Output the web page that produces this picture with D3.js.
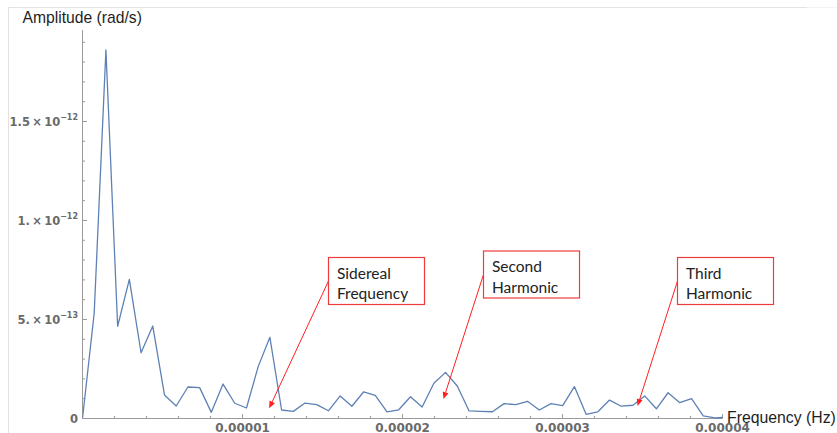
<!DOCTYPE html>
<html>
<head>
<meta charset="utf-8">
<script src="https://cdn.jsdelivr.net/npm/d3@7"></script>
<style>
  html, body { margin: 0; padding: 0; background: #fff; }
  svg { display: block; }
</style>
</head>
<body>
<svg id="chart" width="837" height="433"></svg>
<script>
// Frequency bins (Hz) of the amplitude spectrum
const frequency = [
  0, 0.732e-6, 1.464e-6, 2.196e-6, 2.928e-6, 3.660e-6, 4.392e-6, 5.124e-6,
  5.856e-6, 6.588e-6, 7.320e-6, 8.052e-6, 8.784e-6, 9.516e-6, 10.248e-6, 10.980e-6,
  11.712e-6, 12.444e-6, 13.176e-6, 13.908e-6, 14.640e-6, 15.372e-6, 16.104e-6, 16.836e-6,
  17.568e-6, 18.300e-6, 19.032e-6, 19.764e-6, 20.496e-6, 21.228e-6, 21.960e-6, 22.692e-6,
  23.424e-6, 24.156e-6, 24.888e-6, 25.620e-6, 26.352e-6, 27.084e-6, 27.816e-6, 28.548e-6,
  29.280e-6, 30.012e-6, 30.744e-6, 31.476e-6, 32.208e-6, 32.940e-6, 33.672e-6, 34.404e-6,
  35.136e-6, 35.868e-6, 36.600e-6, 37.332e-6, 38.064e-6, 38.796e-6, 39.528e-6, 40.260e-6
];

// Spectral amplitude (rad/s) in each bin
const amplitude = [
  0.00e-13, 5.33e-13, 18.61e-13, 4.66e-13, 7.03e-13, 3.32e-13, 4.67e-13, 1.19e-13,
  0.63e-13, 1.59e-13, 1.56e-13, 0.31e-13, 1.74e-13, 0.77e-13, 0.53e-13, 2.62e-13,
  4.10e-13, 0.43e-13, 0.36e-13, 0.78e-13, 0.70e-13, 0.39e-13, 1.14e-13, 0.62e-13,
  1.34e-13, 1.17e-13, 0.33e-13, 0.44e-13, 1.10e-13, 0.58e-13, 1.78e-13, 2.33e-13,
  1.64e-13, 0.39e-13, 0.36e-13, 0.34e-13, 0.75e-13, 0.70e-13, 0.87e-13, 0.43e-13,
  0.75e-13, 0.65e-13, 1.61e-13, 0.21e-13, 0.34e-13, 0.93e-13, 0.62e-13, 0.67e-13,
  1.14e-13, 0.49e-13, 1.30e-13, 0.80e-13, 1.00e-13, 0.13e-13, 0.03e-13, 0.06e-13
];

// Labelled ticks
const xTickValues = [1e-5, 2e-5, 3e-5, 4e-5];
const xTickLabels = ["0.00001", "0.00002", "0.00003", "0.00004"];
const yTickValues = [0, 5e-13, 1e-12, 1.5e-12];
const yTickMantissa = ["0", "5.\u2009\u00d7\u200910", "1.\u2009\u00d7\u200910", "1.5\u2009\u00d7\u200910"];
const yTickExponent = ["", "\u221213", "\u221212", "\u221212"];

// Callouts: text lines and the (frequency, amplitude) each arrow points at
const calloutLines = [["Sidereal", "Frequency"], ["Second", "Harmonic"], ["Third", "Harmonic"]];
const calloutFrequency = [11.67e-6, 22.56e-6, 34.69e-6];
const calloutAmplitude = [0.52e-13, 0.98e-13, 0.63e-13];

// ---------------------------------------------------------------------------
const W = 837, H = 433;
const svg = d3.select("#chart");
const axisColor = "#9a9a9a";
const tickFont = "'DejaVu Sans', Verdana, sans-serif";
const titleFont = "'Liberation Sans', Arial, sans-serif";

svg.append("rect").attr("width", W).attr("height", H).attr("fill", "#fff");

// thin frame along the top and left edges
svg.append("line").attr("x1", 8).attr("x2", 807).attr("y1", 7.5).attr("y2", 7.5)
  .attr("stroke", "#dfe4e4").attr("stroke-width", 1.2);
svg.append("line").attr("x1", 807).attr("x2", 837).attr("y1", 7.5).attr("y2", 7.5)
  .attr("stroke", "#f3f3f3").attr("stroke-width", 1.2);
svg.append("line").attr("x1", 8.5).attr("x2", 8.5).attr("y1", 7).attr("y2", H)
  .attr("stroke", "#e2e2e2").attr("stroke-width", 1);

const x = d3.scaleLinear().domain([0, 4e-5]).range([82.5, 722.5]);
const y = d3.scaleLinear().domain([0, 1.962e-12]).range([418.5, 30]);

// minor ticks
const xMinor = d3.range(1, 20).map(i => i * 2e-6);
const yMinor = d3.range(1, 20).map(i => i * 1e-13);

const gx = svg.append("g");
gx.append("line").attr("x1", x(0)).attr("x2", x(4e-5))
  .attr("y1", y(0)).attr("y2", y(0)).attr("stroke", axisColor);
gx.selectAll("line.minor").data(xMinor).join("line").attr("class", "minor")
  .attr("x1", d => x(d)).attr("x2", d => x(d))
  .attr("y1", y(0)).attr("y2", y(0) - 2.5).attr("stroke", axisColor);
gx.selectAll("line.major").data(xTickValues).join("line").attr("class", "major")
  .attr("x1", d => x(d)).attr("x2", d => x(d))
  .attr("y1", y(0)).attr("y2", y(0) - 4.5).attr("stroke", axisColor);
gx.selectAll("text").data(xTickValues).join("text")
  .attr("x", d => x(d)).attr("y", 431.5)
  .attr("text-anchor", "middle")
  .attr("font-family", tickFont).attr("font-weight", "bold")
  .attr("font-size", "12px").attr("fill", "#6a6a6a")
  .text((d, i) => xTickLabels[i]);

const gy = svg.append("g");
gy.append("line").attr("x1", x(0)).attr("x2", x(0))
  .attr("y1", y(0)).attr("y2", y.range()[1]).attr("stroke", axisColor);
gy.selectAll("line.minor").data(yMinor).join("line").attr("class", "minor")
  .attr("x1", x(0)).attr("x2", x(0) + 2.5)
  .attr("y1", d => y(d)).attr("y2", d => y(d)).attr("stroke", axisColor);
gy.selectAll("line.major").data(yTickValues).join("line").attr("class", "major")
  .attr("x1", x(0)).attr("x2", x(0) + 4.5)
  .attr("y1", d => y(d)).attr("y2", d => y(d)).attr("stroke", axisColor);
const yLabels = gy.selectAll("text").data(yTickValues).join("text")
  .attr("x", 78).attr("y", d => y(d) + 4.4)
  .attr("text-anchor", "end")
  .attr("font-family", tickFont).attr("font-weight", "bold")
  .attr("font-size", "11.5px").attr("fill", "#6a6a6a");
yLabels.append("tspan").text((d, i) => yTickMantissa[i]);
yLabels.append("tspan").attr("dy", -6).attr("font-size", "8px")
  .text((d, i) => yTickExponent[i]);

// axis titles
svg.append("text").attr("x", 22.5).attr("y", 22.5)
  .attr("font-family", titleFont).attr("font-size", "15.7px")
  .attr("fill", "#1e1e1e").text("Amplitude (rad/s)");
svg.append("text").attr("x", 727).attr("y", 423)
  .attr("font-family", titleFont).attr("font-size", "15.8px")
  .attr("fill", "#1e1e1e").text("Frequency (Hz)");

// spectrum line
svg.append("clipPath").attr("id", "plot-clip").append("rect")
  .attr("x", x(0)).attr("y", 0).attr("width", x(4e-5) - x(0)).attr("height", H);
const series = frequency.map((f, i) => [f, amplitude[i]]);
svg.append("path").datum(series)
  .attr("clip-path", "url(#plot-clip)")
  .attr("fill", "none").attr("stroke", "#5e81b5").attr("stroke-width", 1.3)
  .attr("stroke-linejoin", "round")
  .attr("d", d3.line().x(d => x(d[0])).y(d => y(d[1])));

// callout boxes and arrows
const boxes = [
  { left: 328.5, top: 257.5, w: 96, h: 47 },
  { left: 483.5, top: 251, w: 96, h: 47 },
  { left: 677.5, top: 257.5, w: 96, h: 47 }
];
const red = "#ff1f1f";
calloutLines.forEach((lines, i) => {
  const b = boxes[i];
  const sx = b.left, sy = b.top + b.h / 2;
  const tx = x(calloutFrequency[i]), ty = y(calloutAmplitude[i]);
  const ang = Math.atan2(ty - sy, tx - sx);
  const len = 7, half = 3;
  const bx = tx - len * Math.cos(ang), by = ty - len * Math.sin(ang);
  svg.append("line").attr("x1", sx).attr("y1", sy).attr("x2", bx).attr("y2", by)
    .attr("stroke", red).attr("stroke-width", 1);
  svg.append("path")
    .attr("d", d3.line()([
      [tx, ty],
      [bx + half * Math.sin(ang), by - half * Math.cos(ang)],
      [bx - half * Math.sin(ang), by + half * Math.cos(ang)]
    ]) + "Z")
    .attr("fill", red);
  svg.append("rect").attr("x", b.left).attr("y", b.top).attr("width", b.w).attr("height", b.h)
    .attr("fill", "#fff").attr("stroke", "#ee3b3b").attr("stroke-width", 1.2);
  const t = svg.append("text")
    .attr("font-family", "Lato, 'Open Sans', sans-serif").attr("font-size", "15.5px")
    .attr("fill", "#222");
  lines.forEach((s, k) => {
    t.append("tspan").attr("x", b.left + 8.5)
      .attr("y", b.top + b.h - 5.5 - (lines.length - 1 - k) * 20.5).text(s);
  });
});
</script>
</body>
</html>
